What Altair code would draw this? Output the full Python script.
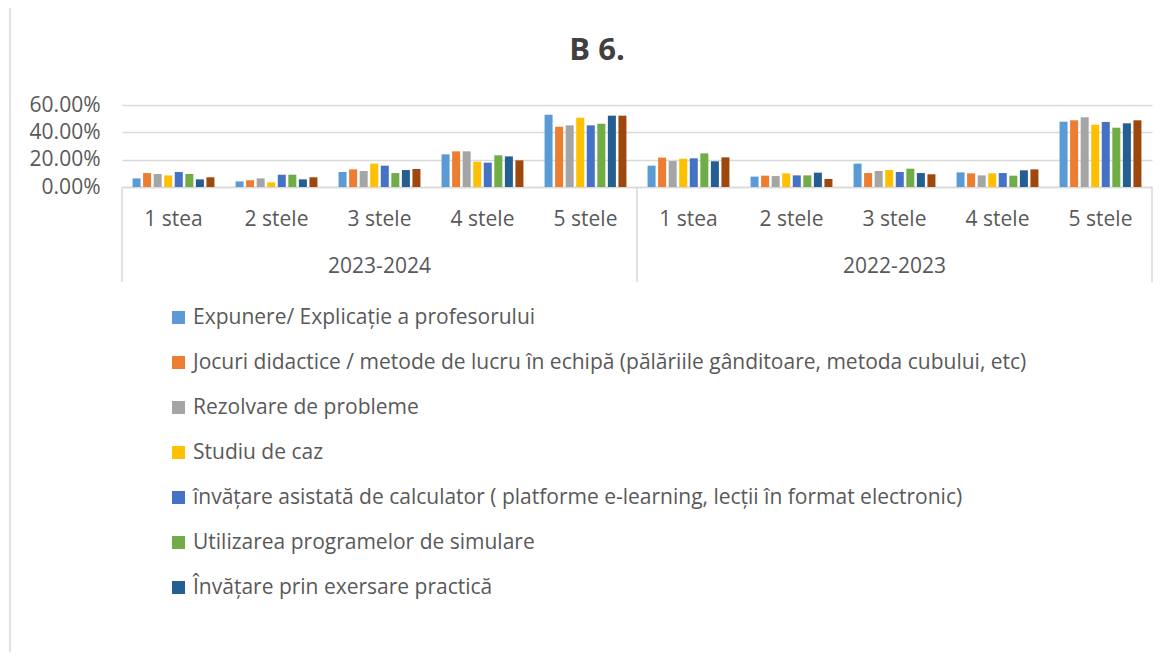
import altair as alt
import pandas as pd

years = ["2023-2024", "2022-2023"]
stars = ["1 stea", "2 stele", "3 stele", "4 stele", "5 stele"]
series = [
    "Expunere/ Explicație a profesorului",
    "Jocuri didactice / metode de lucru în echipă (pălăriile gânditoare, metoda cubului, etc)",
    "Rezolvare de probleme",
    "Studiu de caz",
    "învățare asistată de calculator ( platforme e-learning, lecții în format electronic)",
    "Utilizarea programelor de simulare",
    "Învățare prin exersare practică",
    "Altele",
]
colors = ["#5B9BD5", "#ED7D31", "#A5A5A5", "#FFC000", "#4472C4", "#70AD47", "#255E91", "#9E480E"]

# percentages, per series: 2023-2024 (1..5 stele) then 2022-2023 (1..5 stele)
s1 = [6.3, 4.1, 11.0, 23.9, 52.9, 15.6, 7.6, 17.1, 10.7, 47.8]
s2 = [10.2, 4.9, 12.9, 26.1, 44.1, 21.5, 8.3, 10.2, 10.0, 48.8]
s3 = [9.5, 6.3, 11.7, 26.1, 45.1, 19.0, 8.0, 11.7, 8.5, 51.0]
s4 = [8.5, 3.4, 17.1, 18.5, 50.7, 20.7, 10.0, 12.4, 10.0, 45.6]
s5 = [11.0, 9.0, 15.6, 17.8, 45.1, 21.0, 8.5, 11.0, 10.2, 47.6]
s6 = [9.5, 9.0, 10.2, 23.2, 46.3, 24.6, 8.5, 13.4, 8.3, 43.4]
s7 = [5.6, 5.6, 12.4, 22.4, 52.2, 18.8, 10.5, 10.2, 12.2, 46.6]
s8 = [7.1, 7.1, 13.2, 19.5, 52.2, 21.7, 5.9, 9.3, 12.9, 48.8]
all_series = [s1, s2, s3, s4, s5, s6, s7, s8]

cats = [f"{y}|{s}" for y in years for s in stars]

rows = []
for name, vals in zip(series, all_series):
    for c, v in zip(cats, vals):
        rows.append({"cat": c, "series": name, "value": v / 100})
df = pd.DataFrame(rows)

lab_df = pd.DataFrame({"cat": cats, "label": [c.split("|")[1] for c in cats]})
year_df = pd.DataFrame({"cat": [f"{y}|3 stele" for y in years], "label": years})
sep_start = pd.DataFrame({"cat": [f"{y}|1 stea" for y in years]})
sep_end = pd.DataFrame({"cat": [f"{years[-1]}|5 stele"]})

FONT = "Open Sans"
GREY = "#595959"
W, H = 1030, 82
FS = 21

xscale = alt.Scale(domain=cats, paddingInner=0, paddingOuter=0)

bars = alt.Chart(df).mark_bar().encode(
    x=alt.X("cat:N", scale=xscale, axis=alt.Axis(labels=False, ticks=False, title=None,
                                                  domainColor="#D9D9D9", domainWidth=1.5, grid=False)),
    xOffset=alt.XOffset("series:N", sort=series, scale=alt.Scale(domain=series, paddingInner=0.24, paddingOuter=1.0)),
    y=alt.Y("value:Q", scale=alt.Scale(domain=[0, 0.6]),
            axis=alt.Axis(values=[0, 0.2, 0.4, 0.6], format=".2%", title=None, ticks=False, domain=False,
                          gridColor="#D9D9D9", gridWidth=1.5, labelFont=FONT, labelFontSize=FS,
                          labelColor=GREY, labelPadding=22)),
    color=alt.Color("series:N", sort=series, scale=alt.Scale(domain=series, range=colors),
                    legend=alt.Legend(values=series[:7], title=None, orient="none", legendX=46, legendY=202,
                                      direction="vertical", symbolType="square", symbolSize=169,
                                      symbolStrokeWidth=0, labelFont=FONT, labelFontSize=FS,
                                      labelColor=GREY, labelLimit=1200, rowPadding=23, labelOffset=4,
                                      padding=0)),
)

ticklabels = alt.Chart(lab_df).mark_text(font=FONT, fontSize=FS, color=GREY, baseline="middle").encode(
    x=alt.X("cat:N", scale=xscale), y=alt.value(H + 33), text="label:N")

yearlabels = alt.Chart(year_df).mark_text(font=FONT, fontSize=FS, color=GREY, baseline="middle").encode(
    x=alt.X("cat:N", scale=xscale), y=alt.value(H + 80), text="label:N")

seps1 = alt.Chart(sep_start).mark_rule(color="#D9D9D9", strokeWidth=1.5).encode(
    x=alt.X("cat:N", scale=xscale, bandPosition=0), y=alt.value(H), y2=alt.value(H + 95))
seps2 = alt.Chart(sep_end).mark_rule(color="#D9D9D9", strokeWidth=1.5).encode(
    x=alt.X("cat:N", scale=xscale, bandPosition=1), y=alt.value(H), y2=alt.value(H + 95))

title = alt.Chart(pd.DataFrame({"t": ["B 6."]})).mark_text(
    font=FONT, fontSize=31, fontWeight="bold", color="#404040", baseline="middle").encode(
    x=alt.value(475), y=alt.value(-54), text="t:N")

frame = alt.Chart(pd.DataFrame({"a": [0]})).mark_rule(color="#D9D9D9", strokeWidth=1.5).encode(
    x=alt.value(-112), y=alt.value(-97), y2=alt.value(560))

chart = alt.layer(bars, ticklabels, yearlabels, seps1, seps2, title, frame).properties(
    width=W, height=H,
    autosize=alt.AutoSizeParams(type="none"),
    padding={"left": 114, "top": 97, "right": 8, "bottom": 465},
).configure_view(stroke=None).resolve_scale(x="shared")

chart.save("out.html", embed_options={"renderer": "svg", "actions": False})
